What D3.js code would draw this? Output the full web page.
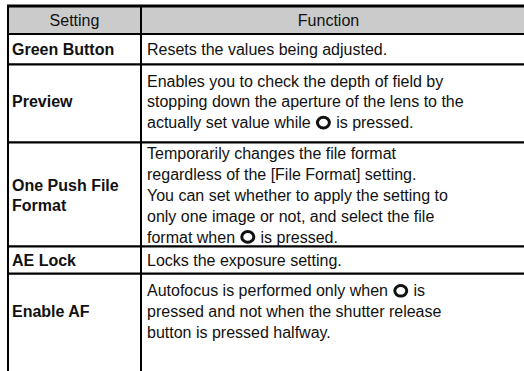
<!DOCTYPE html>
<html>
<head>
<meta charset="utf-8">
<script src="https://cdn.jsdelivr.net/npm/d3@7"></script>
<style>
  html, body { margin: 0; padding: 0; background: #fff; }
  svg { display: block; }
  text { font-family: "Liberation Sans", Arial, sans-serif; font-size: 16px; fill: #111; }
</style>
</head>
<body>
<script>
// ---- data ----
const headers = ["Setting", "Function"];
const settings = [["Green Button"], ["Preview"], ["One Push File", "Format"], ["AE Lock"], ["Enable AF"]];
const functions = [
  ["Resets the values being adjusted."],
  ["Enables you to check the depth of field by",
   "stopping down the aperture of the lens to the",
   "actually set value while {O} is pressed."],
  ["Temporarily changes the file format",
   "regardless of the [File Format] setting.",
   "You can set whether to apply the setting to",
   "only one image or not, and select the file",
   "format when {O} is pressed."],
  ["Locks the exposure setting."],
  ["Autofocus is performed only when {O} is",
   "pressed and not when the shutter release",
   "button is pressed halfway."]
];

// ---- layout ----
const W = 524, H = 371;
const colEdges = [8, 141, 516];
const tableRight = 530;
const tableTop = 6, headerH = 28;
const lineH = 20.8;
const rowPadding = [9.5, 15.6, 0, 6.5, 15.6];
const rowTextShift = [0, -1.5, 1, 0, -1];

const svg = d3.select("body").append("svg").attr("width", W).attr("height", H);

const rowHeights = functions.map((f, i) => rowPadding[i] + f.length * lineH);
const rowTops = [];
let acc = tableTop + headerH;
rowHeights.forEach(h => { rowTops.push(acc); acc += h; });

// header background
svg.append("rect").attr("x", colEdges[0]).attr("y", tableTop).attr("width", tableRight - colEdges[0]).attr("height", headerH).attr("fill", "#cbcbcb");

// header text
svg.selectAll("text.hdr").data(headers).join("text")
  .attr("class", "hdr")
  .attr("x", (d, i) => (colEdges[i] + colEdges[i + 1]) / 2)
  .attr("y", tableTop + headerH / 2)
  .attr("dy", "0.35em")
  .attr("text-anchor", "middle")
  .text(d => d);

const rows = svg.selectAll("g.row").data(settings.map((s, i) => ({ s, f: functions[i], y: rowTops[i], h: rowHeights[i], sh: rowTextShift[i] })))
  .join("g").attr("class", "row");

rows.each(function (d) {
  const g = d3.select(this);
  const cy = d.y + d.h / 2 + d.sh;
  d.s.forEach((ln, k) => {
    g.append("text")
      .attr("x", colEdges[0] + 4)
      .attr("y", cy + (k - (d.s.length - 1) / 2) * lineH)
      .attr("dy", "0.35em")
      .attr("font-weight", "bold")
      .text(ln);
  });
  d.f.forEach((ln, k) => {
    const y = cy + (k - (d.f.length - 1) / 2) * lineH;
    const parts = ln.split("{O}");
    let x = colEdges[1] + 6;
    parts.forEach((p, j) => {
      if (j > 0) {
        const r = 5.3;
        g.append("ellipse").attr("cx", x + 2 + r + 1).attr("cy", y).attr("rx", r + 0.7).attr("ry", r)
          .attr("fill", "none").attr("stroke", "#111").attr("stroke-width", 3);
        x += 2 + 2 * r + 2 + 2;
      }
      if (p.length) {
        const t = g.append("text").attr("x", x).attr("y", y).attr("dy", "0.35em").style("white-space", "pre").text(p);
        x += t.node().getComputedTextLength();
      }
    });
  });
});

// grid lines
const hLines = [tableTop, tableTop + headerH, ...rowTops.slice(1)];
svg.selectAll("line.h").data(hLines).join("line")
  .attr("x1", colEdges[0] - 1).attr("x2", tableRight)
  .attr("y1", d => d).attr("y2", d => d)
  .attr("stroke", "#000").attr("stroke-width", (d, i) => i === 0 ? 3 : 2.2);
svg.selectAll("line.v").data(colEdges.slice(0, 2)).join("line")
  .attr("x1", d => d).attr("x2", d => d)
  .attr("y1", tableTop).attr("y2", H)
  .attr("stroke", "#000").attr("stroke-width", 2);
</script>
</body>
</html>
